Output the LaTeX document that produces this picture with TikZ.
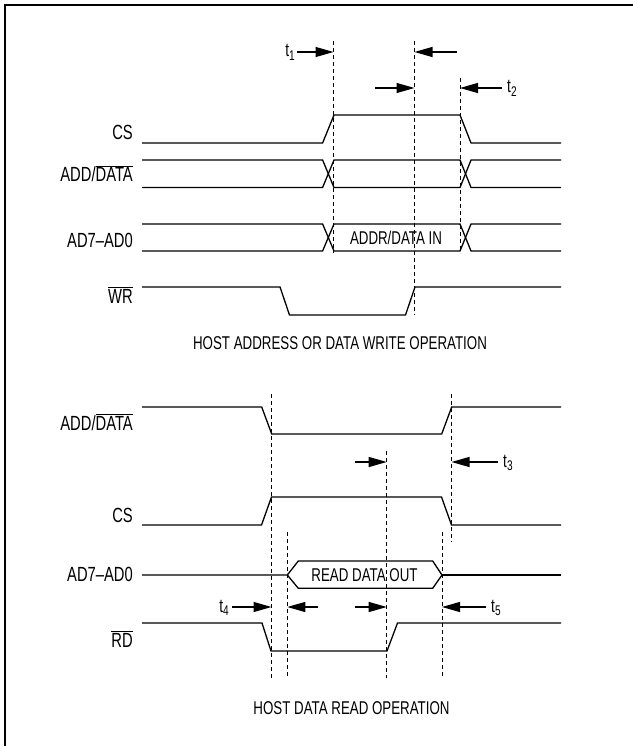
\documentclass[tikz,border=0pt]{standalone}
\usepackage{fontspec}
\setmainfont[FakeStretch=0.72]{Liberation Sans}
\usetikzlibrary{arrows.meta}
\newcommand{\ovl}[1]{$\overline{\mbox{#1}}$}
\newcommand{\tsub}[1]{t\raisebox{-3.5pt}{\fontsize{14}{14}\selectfont #1}}
\begin{document}
\begin{tikzpicture}[x=1pt,y=-1pt,
  sig/.style={line width=1.3pt, line join=miter},
  guide/.style={line width=0.8pt, dash pattern=on 4pt off 3pt},
  tarrow/.style={line width=1.2pt, -{Triangle[length=18pt,width=10pt]}},
  lbl/.style={font=\fontsize{20.5}{22}\selectfont, inner sep=0pt, anchor=base east},
  txt/.style={font=\fontsize{18.5}{20}\selectfont, inner sep=0pt},
  tl/.style={font=\fontsize{19}{20}\selectfont, inner sep=0pt}]
\useasboundingbox (0,0) rectangle (632,746);
% frame
\draw[line width=1.8pt] (5,750) -- (5,5) -- (636,5);

% ===== top: write operation =====
\node[lbl] (cs1) at (133,140) {CS};
\node[lbl] (ad1) at (133,182) {ADD/\ovl{DATA}};
\node[lbl] (bus1) at (133,247) {AD7–AD0};
\node[lbl] (wr) at (133,303) {\ovl{WR}};

% CS
\draw[sig] (142,143) -- (322.6,143) -- (334,115) -- (460,115) -- (471,143) -- (561,143);
% ADD/DATA
\draw[sig] (142,160) -- (322.6,160) -- (334,187.5) -- (460,187.5) -- (471,160) -- (561,160);
\draw[sig] (142,187.5) -- (322.6,187.5) -- (334,160) -- (460,160) -- (471,187.5) -- (561,187.5);
% AD7-AD0
\draw[sig] (142,224) -- (322.6,224) -- (334,251) -- (460,251) -- (471,224) -- (561,224);
\draw[sig] (142,251) -- (322.6,251) -- (334,224) -- (460,224) -- (471,251) -- (561,251);
\node[txt] (adin) at (396,237.5) {ADDR/DATA IN};
% WR
\draw[sig] (142,287) -- (280,287) -- (289.5,315) -- (405.5,315) -- (415,287) -- (561,287);

% guides
\coordinate (g1t) at (333.5,41); \coordinate (g1b) at (333.5,253);
\coordinate (g2t) at (414.5,41); \coordinate (g2b) at (414.5,315);
\coordinate (g3t) at (460,78);   \coordinate (g3b) at (460,253);
\draw[guide] (g1t) -- (g1b);
\draw[guide] (g2t) -- (g2b);
\draw[guide] (g3t) -- (g3b);

% arrows
\coordinate (a1s) at (297,52);  \coordinate (a1e) at (333.5,52);
\coordinate (a2s) at (457,52);  \coordinate (a2e) at (414.5,52);
\coordinate (a3s) at (375,88);  \coordinate (a3e) at (414.5,88);
\coordinate (a4s) at (502,88);  \coordinate (a4e) at (460,88);
\draw[tarrow] (a1s) -- (a1e);
\draw[tarrow] (a2s) -- (a2e);
\draw[tarrow] (a3s) -- (a3e);
\draw[tarrow] (a4s) -- (a4e);
\node[tl, anchor=base east] (t1) at (295,57) {\tsub{1}};
\node[tl, anchor=base west] (t2) at (507,93) {\tsub{2}};

\node[txt] (cap1) at (340,343) {HOST ADDRESS OR DATA WRITE OPERATION};

% ===== bottom: read operation =====
\node[lbl] (ad2) at (133,430) {ADD/\ovl{DATA}};
\node[lbl] (cs2) at (133,522) {CS};
\node[lbl] (bus2) at (133,581) {AD7–AD0};
\node[lbl] (rd) at (133,647) {\ovl{RD}};

\draw[sig] (142,407) -- (261.7,407) -- (271.7,434) -- (441.7,434) -- (451.7,407) -- (561,407);
\draw[sig] (142,525) -- (261.5,525) -- (271.5,497) -- (441.5,497) -- (451.5,525) -- (561,525);
\draw[sig] (142,575) -- (287.3,575) -- (298.3,561) -- (432.7,561) -- (442,575) -- (432.7,588.3) -- (298.3,588.3) -- (287.3,575);
\draw[sig] (442,575) -- (561,575);
\node[txt] (rdout) at (364.5,575) {READ DATA OUT};
\draw[sig] (142,623) -- (262,623) -- (271,651) -- (387,651) -- (397.5,623) -- (561,623);

\coordinate (h1t) at (271.5,394); \coordinate (h1b) at (271.5,678);
\coordinate (h2t) at (451.5,394); \coordinate (h2b) at (451.5,542);
\coordinate (h3t) at (386.7,451); \coordinate (h3b) at (386.7,678);
\coordinate (h4t) at (287.3,532); \coordinate (h4b) at (287.3,678);
\coordinate (h5t) at (442,532);   \coordinate (h5b) at (442,678);
\draw[guide] (h1t) -- (h1b);
\draw[guide] (h2t) -- (h2b);
\draw[guide] (h3t) -- (h3b);
\draw[guide] (h4t) -- (h4b);
\draw[guide] (h5t) -- (h5b);

\coordinate (b1s) at (355,462);  \coordinate (b1e) at (386.7,462);
\coordinate (b2s) at (498,462);  \coordinate (b2e) at (451.5,462);
\coordinate (b3s) at (232,607);  \coordinate (b3e) at (271.5,607);
\coordinate (b4s) at (318,607);  \coordinate (b4e) at (287.3,607);
\coordinate (b5s) at (355,607);  \coordinate (b5e) at (386.7,607);
\coordinate (b6s) at (486,607);  \coordinate (b6e) at (442,607);
\draw[tarrow] (b1s) -- (b1e);
\draw[tarrow] (b2s) -- (b2e);
\draw[tarrow] (b3s) -- (b3e);
\draw[tarrow] (b4s) -- (b4e);
\draw[tarrow] (b5s) -- (b5e);
\draw[tarrow] (b6s) -- (b6e);
\node[tl, anchor=base west] (t3) at (503,467) {\tsub{3}};
\node[tl, anchor=base east] (t4) at (229,612) {\tsub{4}};
\node[tl, anchor=base west] (t5) at (491,612) {\tsub{5}};

\node[txt] (cap2) at (351.5,708) {HOST DATA READ OPERATION};
\end{tikzpicture}
\end{document}
